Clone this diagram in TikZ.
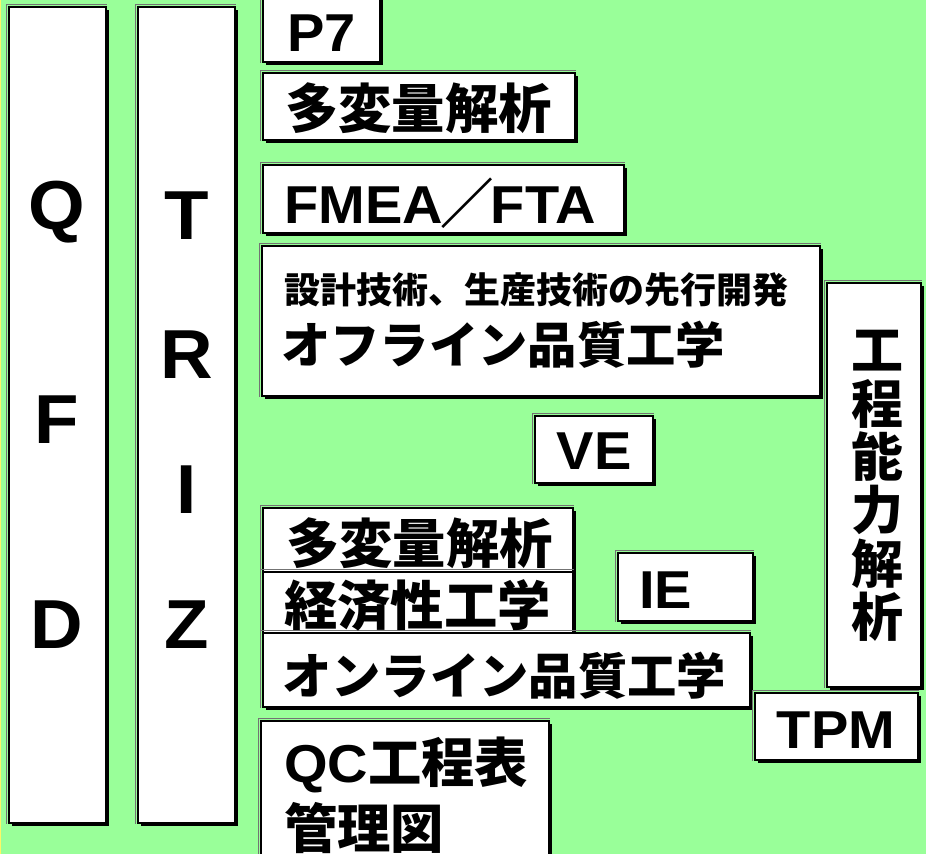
\documentclass[tikz,border=0pt]{standalone}
\usepackage{fontspec}
\setmainfont{Liberation Sans}[FakeStretch=1.05]
\newfontfamily\jp{Noto Sans CJK JP}
\newfontfamily\latf{Liberation Sans}[FakeStretch=1.05]
\usetikzlibrary{shadows,fit}
\definecolor{bg}{RGB}{153,255,153}
\tikzset{
  boxst/.style={draw=black, line width=1.3pt, fill=white, inner sep=0pt,
    general shadow={fill=black, shadow xshift=2.4pt, shadow yshift=-2.4pt}},
  lat/.style={font=\fontsize{40}{44}\selectfont\bfseries, inner sep=0pt},
  big/.style={font=\fontsize{52}{56}\selectfont\bfseries, inner sep=0pt},
  jpt/.style={font=\jp\fontsize{40}{44}\selectfont\bfseries, inner sep=0pt},
  jpm/.style={font=\jp\fontsize{37}{40}\selectfont\bfseries, inner sep=0pt},
  jps/.style={font=\jp\fontsize{27}{30}\selectfont\bfseries, inner sep=0pt}
}
\newcommand\bx[5]{%
  \node[boxst, fit={(#2,#3) (#4,#5)}] (#1) {};
  \draw[black!55, line width=0.8pt] ([xshift=-1.1pt]#1.south west) |- ([yshift=1.1pt]#1.north east);
}
\begin{document}
\begin{tikzpicture}[x=0.75pt, y=-0.75pt]
\useasboundingbox (0,0) rectangle (926,854);
\fill[bg] (0,0) rectangle (926,854);
\fill[yellow!60] (0,0) rectangle (1.5,854);
% boxes
\bx{qfd}{9}{7}{106}{823}
\bx{triz}{138}{7}{235}{823}
\bx{p7}{263}{-5}{380}{62}
\bx{mva}{263}{73}{575}{140}
\bx{fmea}{263}{165}{624}{233}
\bx{off}{262}{246}{820}{396}
\bx{cap}{827}{283}{921}{687}
\bx{ve}{535}{416}{653}{483}
\bx{mvb}{263}{508}{573}{572}
\bx{ie}{618}{553}{753}{621}
\bx{eco}{263}{572}{573}{633}
\bx{on}{263}{633}{750}{707}
\bx{tpm}{755}{693}{918}{760}
\bx{qc}{261}{721}{549}{880}
% texts
\node[big] (tq) at (57,212) {Q};
\node[big] (tf) at (57,420) {F};
\node[big] (td) at (57,625) {D};
\node[big] (tt) at (187,216) {T};
\node[big] (tr) at (187,355) {R};
\node[big] (ti) at (187,490) {I};
\node[big] (tz) at (187,625) {Z};
\node[lat, anchor=west] (tp7) at (287,33) {P7};
\node[jpt, anchor=west] (tmva) at (285,108) {多変量解析};
\node[lat, anchor=west] (tfmea) at (284,203) {FMEA{\jp\hspace{-2pt}／\hspace{-2pt}}FTA};
\node[jps, anchor=west] (toff1) at (284,290) {設計技術、生産技術の先行開発};
\node[jpm, anchor=west] (toff2) at (281,345) {オフライン品質工学};
\node[lat] (tve) at (594,451) {VE};
\node[jpt, anchor=west] (tmvb) at (286,543) {多変量解析};
\node[jpt, anchor=west] (teco) at (284,605) {経済性工学};
\node[jpm, anchor=west] (ton) at (282,676) {オンライン品質工学};
\node[lat, anchor=west] (tie) at (639,590) {IE};
\node[lat] (ttpm) at (836,730) {TPM};
\node[jpt, anchor=west] (tqc1) at (284,765) {{\latf\bfseries QC}工程表};
\node[jpt, anchor=west] (tqc2) at (284,828) {管理図};
\node[jpt, align=center, font=\jp\fontsize{39}{40}\selectfont\bfseries] (tcap) at (877,486) {工\\程\\能\\力\\解\\析};
\end{tikzpicture}
\end{document}
